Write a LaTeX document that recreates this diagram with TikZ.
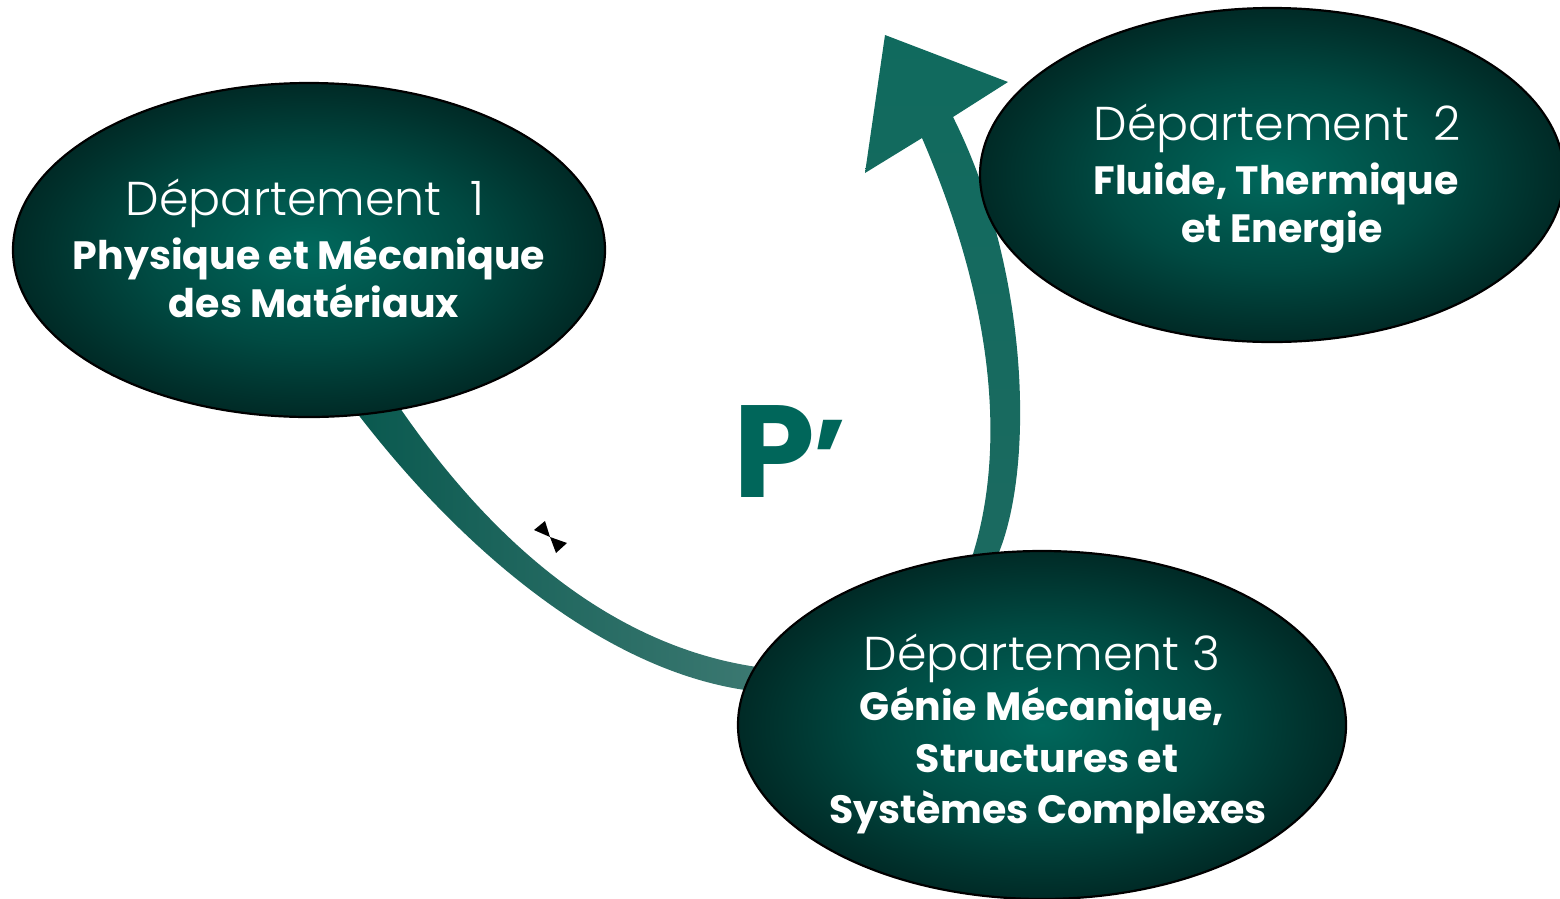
\documentclass[tikz,border=0pt]{standalone}
\usepackage{fontspec}
\setmainfont{Poppins}
\newfontfamily\thinfont{Poppins Light}
\usetikzlibrary{shapes.geometric}
\definecolor{ellIn}{RGB}{0,104,92}
\definecolor{ellMid}{RGB}{0,74,66}
\definecolor{ellOut}{RGB}{0,42,38}
\definecolor{bandDark}{RGB}{8,88,78}
\definecolor{bandLight}{RGB}{62,122,115}
\definecolor{arrTop}{RGB}{16,106,94}
\definecolor{arrMid}{RGB}{72,136,129}
\definecolor{arrBot}{RGB}{28,106,96}
\definecolor{pcol}{RGB}{0,102,90}
\pgfdeclareradialshading{ellshade}{\pgfpoint{0bp}{0bp}}{color(0bp)=(ellIn); color(14bp)=(ellMid); color(25bp)=(ellOut); color(50bp)=(ellOut)}
\begin{document}
\begin{tikzpicture}[x=1pt,y=-1pt,
  dept/.style={ellipse, draw=black, line width=2.2pt, shade, shading=ellshade, inner sep=0pt},
  thinline/.style={anchor=base, text=white, font=\thinfont\fontsize{47.5}{50}\selectfont, inner sep=0pt},
  boldline/.style={anchor=base, text=white, font=\bfseries\fontsize{39.5}{42}\selectfont, inner sep=0pt}]
\useasboundingbox (0,0) rectangle (1560,898);

% connector coordinates
\coordinate (l1a) at (345,396);
\coordinate (l1b) at (389,392);
\coordinate (l3a) at (772,694);
\coordinate (l3b) at (776,670);
\coordinate (u3a) at (974,600);
\coordinate (u3b) at (999,600);
\coordinate (tip) at (885,35);
\coordinate (hl) at (865,173);
\coordinate (hr) at (1008,82);

% lower band (dept 1 -> dept 3)
\shade[left color=bandDark, right color=bandLight]
  (l1a) -- (357,413) .. controls (470,560) and (610,670) .. (745,690) -- (l3a)
  -- (l3b) -- (757,667) .. controls (640,650) and (515,575) .. (400,408) -- (l1b) -- cycle;

% upper arrow (dept 3 -> dept 2)
\shade[top color=arrTop, middle color=arrMid, bottom color=arrBot]
  (u3a) -- (972,557) .. controls (1000,470) and (1005,330) .. (922,138)
  -- (hl) -- (tip) -- (hr) -- (953,117)
  .. controls (1030,270) and (1035,470) .. (997,557) -- (u3b) -- cycle;

% stray mark
\fill[black] (534,530) -- (545,521) -- (550,537) -- cycle;
\fill[black] (550,537) -- (567,543) -- (556,553) -- cycle;

% departments
\node[dept, minimum width=592pt, minimum height=334pt] (e1) at (309,250) {};
\node[dept, minimum width=584pt, minimum height=334pt] (e2) at (1272,175) {};
\node[dept, minimum width=608pt, minimum height=348pt] (e3) at (1042,725) {};

\node[thinline] (t1a) at (305,215) {Département\hspace{0.6em}1};
\node[boldline] (t1b) at (309,269) {Physique et Mécanique};
\node[boldline] (t1c) at (314,317) {des Matériaux};

\node[thinline] (t2a) at (1277,140) {Département\hspace{0.5em}2};
\node[boldline] (t2b) at (1276,194) {Fluide, Thermique};
\node[boldline] (t2c) at (1282,242) {et Energie};

\node[thinline] (t3a) at (1042,670) {Département 3};
\node[boldline] (t3b) at (1042,720) {Génie Mécanique,};
\node[boldline] (t3c) at (1047,772) {Structures et};
\node[boldline] (t3d) at (1048,823) {Systèmes Complexes};

\node[anchor=base west, text=pcol, font=\bfseries\fontsize{131}{131}\selectfont, inner sep=0pt] (pp) at (733,497) {P\kern-0.02em{\fontsize{110}{110}\selectfont’}};
\end{tikzpicture}
\end{document}
